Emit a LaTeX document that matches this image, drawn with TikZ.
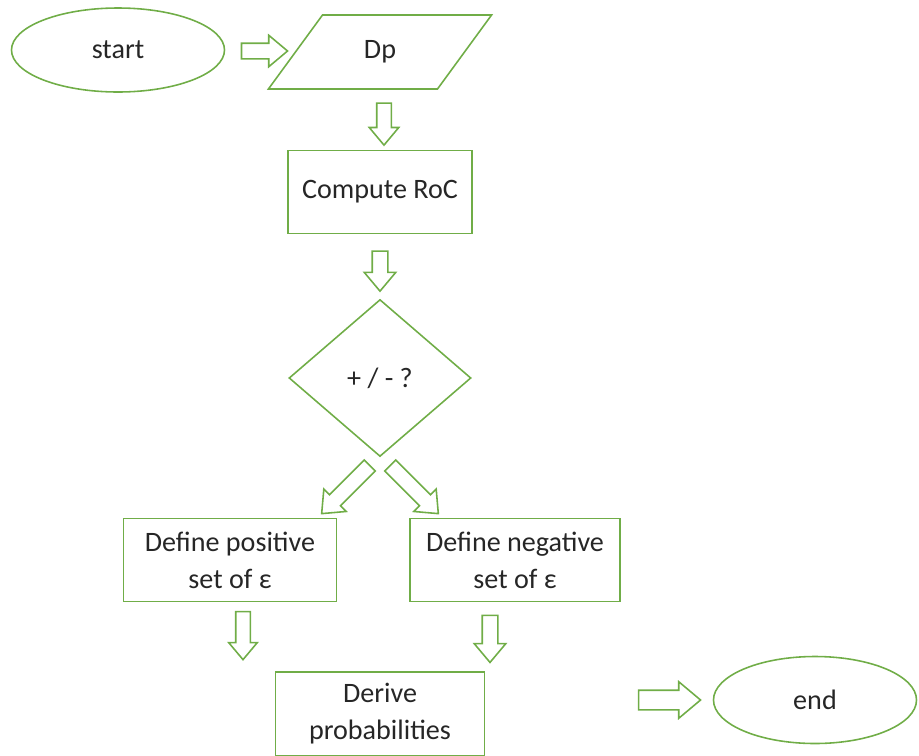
\documentclass[tikz,border=0pt]{standalone}
\usepackage{fontspec}
\setmainfont{Carlito}
\usetikzlibrary{shapes.geometric, shapes.arrows, positioning, calc}
\definecolor{flowgreen}{RGB}{112,173,71}

\begin{document}
\begin{tikzpicture}[node distance = 2.5cm, auto, line width=0.9pt, font=\fontsize{16}{21}\selectfont, text=black!85]
    \tikzstyle{terminal} = [ellipse, draw=flowgreen, minimum width=4.26cm, minimum height=1.68cm]
    \tikzstyle{io} = [trapezium, trapezium left angle=59, trapezium right angle=121, trapezium stretches, draw=flowgreen, minimum width=4.48cm, minimum height=1.48cm]
    \tikzstyle{process} = [rectangle, draw=flowgreen, align=center, minimum width=4.2cm, minimum height=1.66cm]
    \tikzstyle{decision} = [diamond, draw=flowgreen, minimum width=3.64cm, minimum height=3.14cm, inner sep=0pt]
    \tikzstyle{flow} = [single arrow, draw=flowgreen, inner xsep=0pt, inner ysep=0.14cm, single arrow head extend=0.16cm, single arrow tip angle=80, minimum height=0.9cm]

    \useasboundingbox (0,0) rectangle (18.38,-15.12);

    \node [terminal] (start) at (2.36,-1.0) {start};
    \node [io, right of=start, node distance=5.24cm, yshift=-0.04cm] (dp) {Dp};
    \node [process, below of=dp, node distance=2.8cm, minimum width=3.68cm] (roc) {Compute RoC};
    \node [decision, below of=roc, node distance=3.72cm] (sign) {+ / - ?};
    \node [process, below of=sign, node distance=3.64cm, xshift=-3.0cm, minimum width=4.26cm] (pos) {Define positive\\set of ε};
    \node [process, below of=sign, node distance=3.64cm, xshift=2.7cm] (neg) {Define negative\\set of ε};
    \node [process, below of=sign, node distance=6.72cm, minimum width=4.18cm, minimum height=1.68cm] (derive) {Derive\\probabilities};
    \node [terminal, right of=derive, node distance=8.7cm, yshift=0.28cm, minimum width=4.06cm, minimum height=1.74cm] (end) {end};

    % block arrows between the steps
    \node [flow, minimum height=0.92cm] (a1) at ($(start.east)!0.5!(dp.west)$) {};
    \node [flow, rotate=-90, minimum height=0.84cm, inner ysep=0.13cm, single arrow head extend=0.15cm] (a2) at ($(dp.south)!0.5!(roc.north)+(0.08,0)$) {};
    \node [flow, rotate=-90, minimum height=0.8cm] (a3) at ($(roc.south)!0.5!(sign.north)$) {};
    \node [flow, rotate=-135, minimum height=1.36cm] (a4) at ($(sign.south)+(-0.62,-0.58)$) {};
    \node [flow, rotate=-45, minimum height=1.36cm] (a5) at ($(sign.south)+(0.62,-0.58)$) {};
    \node [flow, rotate=-90, minimum height=0.96cm, inner ysep=0.13cm, single arrow head extend=0.14cm] (a6) at ($(pos.south)+(0.26,-0.58)$) {};
    \node [flow, rotate=-90, minimum height=0.94cm] (a7) at ($(neg.south)+(-0.5,-0.64)$) {};
    \node [flow, minimum height=1.24cm, inner ysep=0.18cm, single arrow head extend=0.17cm] (a8) at ($(end.west)+(-0.98,0)$) {};
\end{tikzpicture}
\end{document}
